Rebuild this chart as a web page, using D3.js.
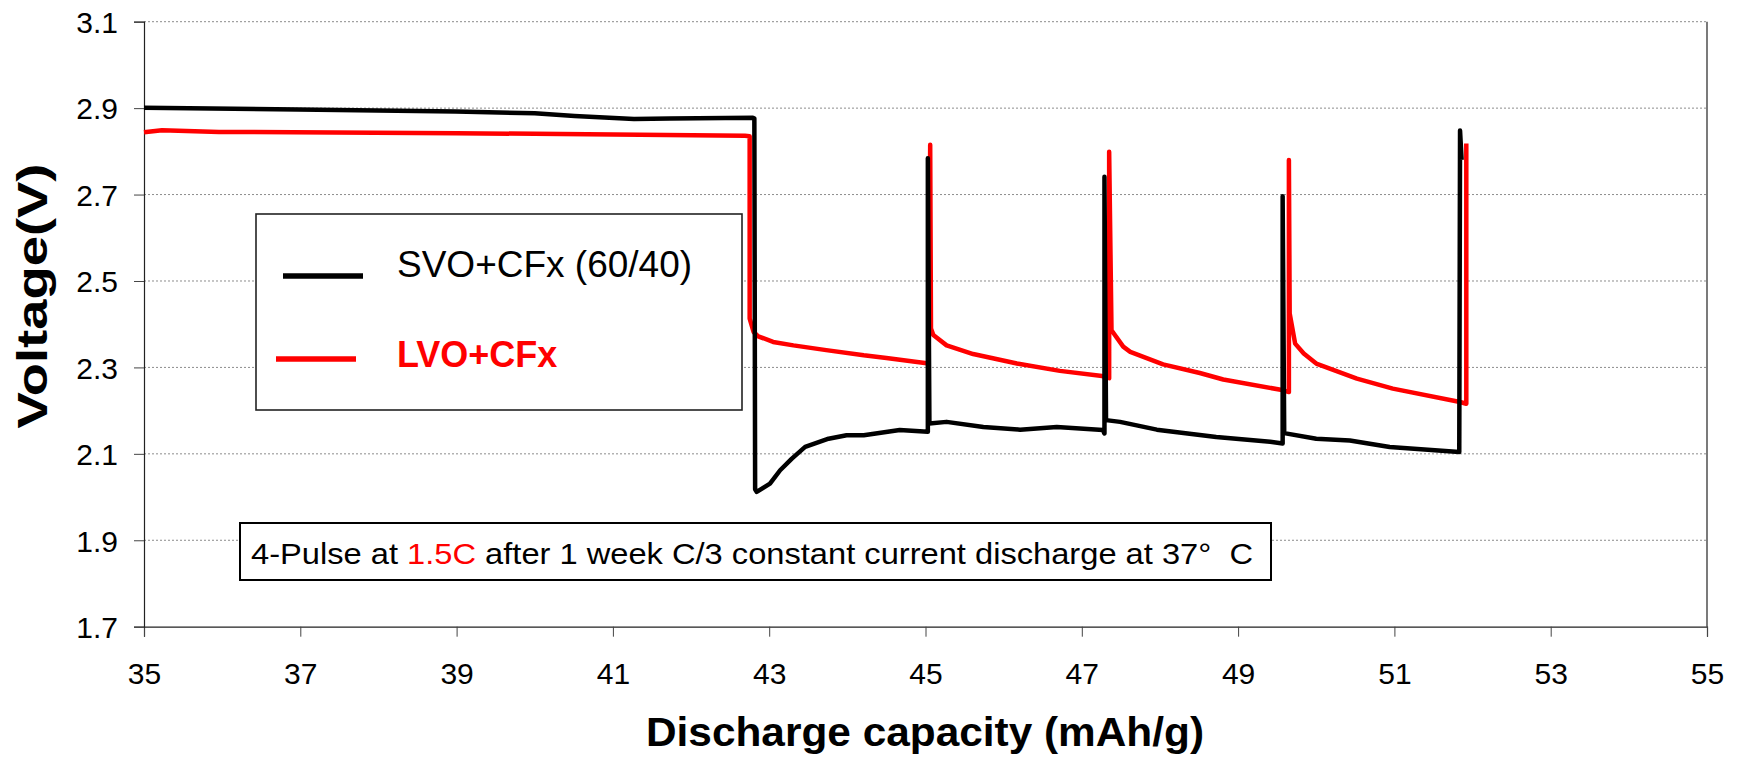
<!DOCTYPE html>
<html>
<head>
<meta charset="utf-8">
<script src="https://cdn.jsdelivr.net/npm/d3@7/dist/d3.min.js"></script>
<style>
body { margin: 0; background: #fff; }
text { font-family: Arial, "Liberation Sans", sans-serif; }
</style>
</head>
<body>
<svg id="chart"></svg>
<script>
const width = 1741;
const height = 761;

// tick values
const xTicks = [35, 37, 39, 41, 43, 45, 47, 49, 51, 53, 55];
const yTicks = [1.7, 1.9, 2.1, 2.3, 2.5, 2.7, 2.9, 3.1];

const seriesNames = ['SVO+CFx (60/40)', 'LVO+CFx'];
const seriesColors = ['#000000', '#ff0000'];

// [capacity, voltage]
const svoData = [
  [35.0, 2.901], [36.97, 2.897], [38.99, 2.892], [40.0, 2.888], [40.51, 2.882],
  [41.27, 2.875], [41.73, 2.876], [42.79, 2.878], [42.81, 2.876], [42.82, 2.018],
  [42.84, 2.012], [43.01, 2.031], [43.14, 2.062], [43.29, 2.089], [43.46, 2.116],
  [43.76, 2.135], [43.99, 2.143], [44.21, 2.143], [44.67, 2.155], [45.03, 2.151],
  [45.03, 2.784], [45.05, 2.170], [45.27, 2.174], [45.74, 2.162], [46.21, 2.156],
  [46.68, 2.162], [47.27, 2.155], [47.29, 2.147], [47.29, 2.741], [47.31, 2.178],
  [47.49, 2.174], [47.96, 2.156], [48.72, 2.139], [49.41, 2.128], [49.57, 2.124],
  [49.57, 2.696], [49.59, 2.148], [50.0, 2.135], [50.43, 2.131], [50.94, 2.116],
  [51.83, 2.104], [51.84, 2.848], [51.86, 2.78]
];

const lvoData = [
  [35.0, 2.844], [35.23, 2.849], [35.96, 2.845], [38.99, 2.842], [41.01, 2.839],
  [42.69, 2.836], [42.75, 2.835], [42.75, 2.413], [42.80, 2.382], [42.86, 2.372],
  [43.05, 2.359], [43.31, 2.351], [43.73, 2.340], [44.21, 2.328], [44.50, 2.322],
  [45.04, 2.309], [45.06, 2.815], [45.07, 2.390], [45.10, 2.375], [45.27, 2.351],
  [45.61, 2.331], [46.17, 2.309], [46.72, 2.292], [47.26, 2.280], [47.35, 2.275],
  [47.35, 2.799], [47.38, 2.386], [47.53, 2.348], [47.62, 2.336], [48.04, 2.307],
  [48.51, 2.287], [48.81, 2.272], [49.58, 2.247], [49.65, 2.243], [49.65, 2.780],
  [49.66, 2.425], [49.73, 2.355], [49.84, 2.332], [50.0, 2.309], [50.52, 2.274],
  [50.98, 2.251], [51.84, 2.220], [51.92, 2.216], [51.92, 2.818]
];

const svg = d3.select('#chart').attr('width', width).attr('height', height);

const margin = { top: 21.7, right: 34, bottom: 134.3, left: 144 };
const innerW = width - margin.left - margin.right;
const innerH = height - margin.top - margin.bottom;

const x = d3.scaleLinear().domain([35, 55]).range([0, innerW]);
const y = d3.scaleLinear().domain([1.7, 3.1]).range([innerH, 0]);

const g = svg.append('g')
  .attr('transform', `translate(${margin.left},${margin.top})`);

// dotted gridlines
g.append('g')
  .selectAll('line')
  .data(yTicks.filter(d => d > 1.7))
  .enter()
  .append('line')
  .attr('x1', 0)
  .attr('x2', innerW)
  .attr('y1', d => y(d))
  .attr('y2', d => y(d))
  .attr('stroke', '#8c8c8c')
  .attr('stroke-width', 1)
  .attr('stroke-dasharray', '2,2');

// right border
g.append('line')
  .attr('x1', innerW).attr('x2', innerW)
  .attr('y1', 0).attr('y2', innerH)
  .attr('stroke', '#222').attr('stroke-width', 1.2);

// axes
const xAxis = g.append('g')
  .attr('transform', `translate(0,${innerH})`)
  .call(d3.axisBottom(x).tickValues(xTicks).tickSize(10).tickPadding(26).tickFormat(d3.format('d')));

const yAxis = g.append('g')
  .call(d3.axisLeft(y).tickValues(yTicks).tickSize(10).tickPadding(16).tickFormat(d3.format('.1f')));

[xAxis, yAxis].forEach(a => {
  a.select('.domain').attr('stroke', '#222').attr('stroke-width', 1.2);
  a.selectAll('.tick line').attr('stroke', '#444');
  a.selectAll('.tick text')
    .style('font-size', '30px')
    .attr('fill', '#000')
    .style('font-family', 'Arial, "Liberation Sans", sans-serif');
});
yAxis.selectAll('.tick text').attr('dy', '0.36em');

// series lines
const line = d3.line()
  .x(d => x(d[0]))
  .y(d => y(d[1]));

g.append('path')
  .datum(lvoData)
  .attr('fill', 'none')
  .attr('stroke', seriesColors[1])
  .attr('stroke-width', 4.5)
  .attr('stroke-linejoin', 'round')
  .attr('d', line);

g.append('path')
  .datum(svoData)
  .attr('fill', 'none')
  .attr('stroke', seriesColors[0])
  .attr('stroke-width', 4.5)
  .attr('stroke-linejoin', 'round')
  .attr('d', line);

// legend box
const lg = svg.append('g');
lg.append('rect')
  .attr('x', 256).attr('y', 214)
  .attr('width', 486).attr('height', 196)
  .attr('fill', '#fff')
  .attr('stroke', '#222')
  .attr('stroke-width', 1.6);

lg.append('line')
  .attr('x1', 283).attr('x2', 363).attr('y1', 276).attr('y2', 276)
  .attr('stroke', seriesColors[0]).attr('stroke-width', 5.5);
lg.append('text')
  .attr('x', 397).attr('y', 277)
  .style('font-size', '37px')
  .attr('fill', seriesColors[0])
  .text(seriesNames[0]);

lg.append('line')
  .attr('x1', 276).attr('x2', 356).attr('y1', 359).attr('y2', 359)
  .attr('stroke', seriesColors[1]).attr('stroke-width', 5.5);
lg.append('text')
  .attr('x', 397).attr('y', 367)
  .style('font-size', '36px')
  .style('font-weight', 'bold')
  .attr('fill', seriesColors[1])
  .text(seriesNames[1]);

// note box
const note = svg.append('g');
note.append('rect')
  .attr('x', 240).attr('y', 523)
  .attr('width', 1031).attr('height', 57)
  .attr('fill', '#fff')
  .attr('stroke', '#000')
  .attr('stroke-width', 2);

const noteText = note.append('text')
  .attr('x', 251).attr('y', 564)
  .attr('textLength', 1002)
  .attr('lengthAdjust', 'spacingAndGlyphs')
  .style('font-size', '30px')
  .attr('fill', '#000');
noteText.append('tspan').text('4-Pulse at ');
noteText.append('tspan').attr('fill', '#ff0000').text('1.5C');
noteText.append('tspan').text(' after 1 week C/3 constant current discharge at 37°\u00a0\u00a0C');

// axis titles
svg.append('text')
  .attr('x', 925).attr('y', 746)
  .attr('text-anchor', 'middle')
  .attr('textLength', 558)
  .attr('lengthAdjust', 'spacingAndGlyphs')
  .style('font-size', '41px')
  .style('font-weight', 'bold')
  .text('Discharge capacity (mAh/g)');

svg.append('text')
  .attr('transform', 'translate(47,296) rotate(-90)')
  .attr('text-anchor', 'middle')
  .attr('textLength', 265)
  .attr('lengthAdjust', 'spacingAndGlyphs')
  .style('font-size', '42px')
  .style('font-weight', 'bold')
  .text('Voltage(V)');
</script>
</body>
</html>
